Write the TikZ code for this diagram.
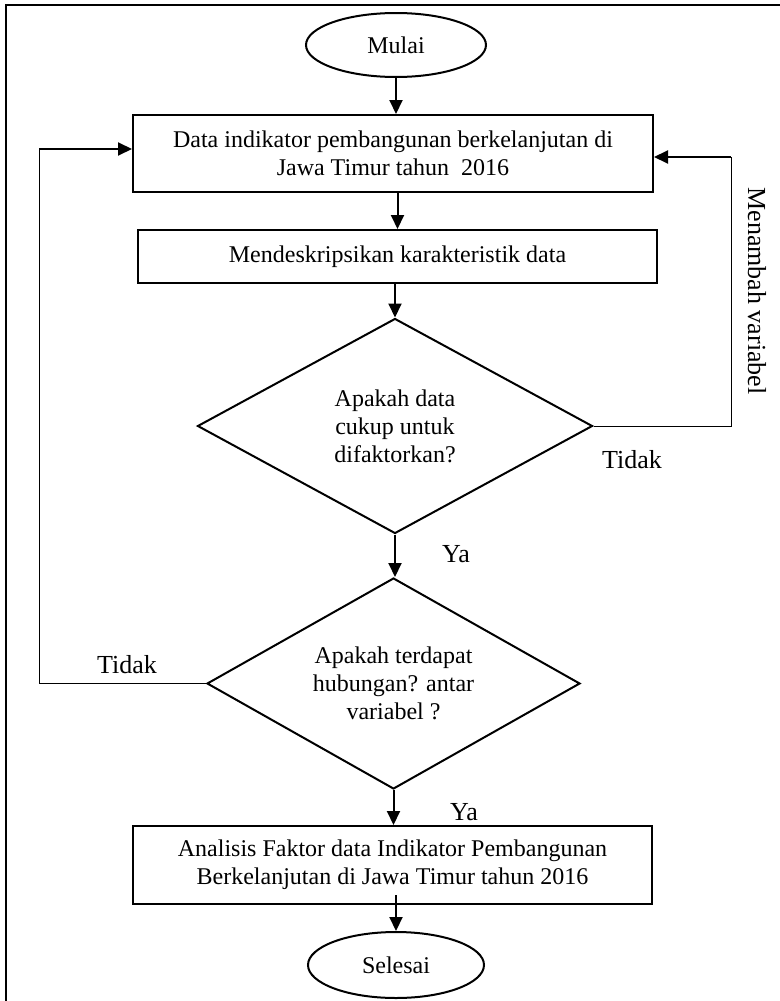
\documentclass[tikz,border=0pt]{standalone}
\usepackage{fontspec}
\setmainfont{Liberation Serif}
\usetikzlibrary{shapes.geometric,arrows.meta,calc}

\begin{document}
\begin{tikzpicture}[x=0.5pt,y=-0.5pt,
  font=\fontsize{12}{14}\selectfont,
  kotak/.style={draw,line width=1pt,align=center,inner sep=0pt},
  oval/.style={draw,ellipse,line width=1pt,inner sep=0pt},
  belah/.style={draw,diamond,line width=1pt,align=center,inner sep=0pt,aspect=1.8},
  panah/.style={line width=1pt,-{Triangle[length=7pt,width=6.5pt]}},
  garis/.style={line width=0.5pt},
  ket/.style={font=\fontsize{13}{15}\selectfont}]
  \useasboundingbox (0,0) rectangle (780,1001);
  % bingkai
  \draw[line width=1pt] (6,1001) -- (6,5) -- (780,5);

  \node[oval,minimum width=90pt,minimum height=32pt] (mulai) at (396,45) {Mulai};
  \node[kotak,minimum width=260pt,minimum height=38.5pt] (data) at (393,153.5)
    {Data indikator pembangunan berkelanjutan di\\Jawa Timur tahun\ \ 2016};
  \node[kotak,minimum width=259.5pt,minimum height=26.5pt] (deskripsi) at (397.5,256.5)
    {Mendeskripsikan karakteristik data};
  \node[belah,minimum width=197.5pt,minimum height=107.5pt] (cukup) at (395,426)
    {Apakah data\\cukup untuk\\difaktorkan?};
  \node[belah,minimum width=186.5pt,minimum height=105.5pt] (hubungan) at (393.5,683.5)
    {Apakah terdapat\\hubungan? antar\\variabel ?};
  \node[kotak,minimum width=259.5pt,minimum height=39pt] (analisis) at (392.5,865)
    {Analisis Faktor data Indikator Pembangunan\\Berkelanjutan di Jawa Timur tahun 2016};
  \node[oval,minimum width=88pt,minimum height=33pt] (selesai) at (396,965) {Selesai};

  \draw[panah] (mulai.south) -- (mulai.south |- data.north);
  \draw[panah] (deskripsi.north |- data.south) -- (deskripsi.north);
  \draw[panah] (cukup.north |- deskripsi.south) -- (cukup.north);
  \draw[panah] (cukup.south) -- (cukup.south |- hubungan.north);
  \draw[panah] (hubungan.south) -- (hubungan.south |- analisis.north);
  \draw[panah] ($(selesai.north |- analisis.south)+(0,-10)$) -- (selesai.north);

  % kembali ke data
  \coordinate (kanan) at (731,157);
  \draw[garis] (cukup.east) -- (cukup.east -| kanan) -- (kanan);
  \draw[panah] (kanan) -- (kanan -| data.east);
  \coordinate (kiri) at (39,149);
  \draw[garis] (hubungan.west) -- (hubungan.west -| kiri) -- (kiri);
  \draw[panah] (kiri) -- (kiri -| data.west);

  \node[ket] (tidak1) at (632,460) {Tidak};
  \node[ket,rotate=-90] (tambah) at (757,291) {Menambah variabel};
  \node[ket] (ya1) at (456,554) {Ya};
  \node[ket] (tidak2) at (127,665) {Tidak};
  \node[ket] (ya2) at (464,812) {Ya};
\end{tikzpicture}
\end{document}
